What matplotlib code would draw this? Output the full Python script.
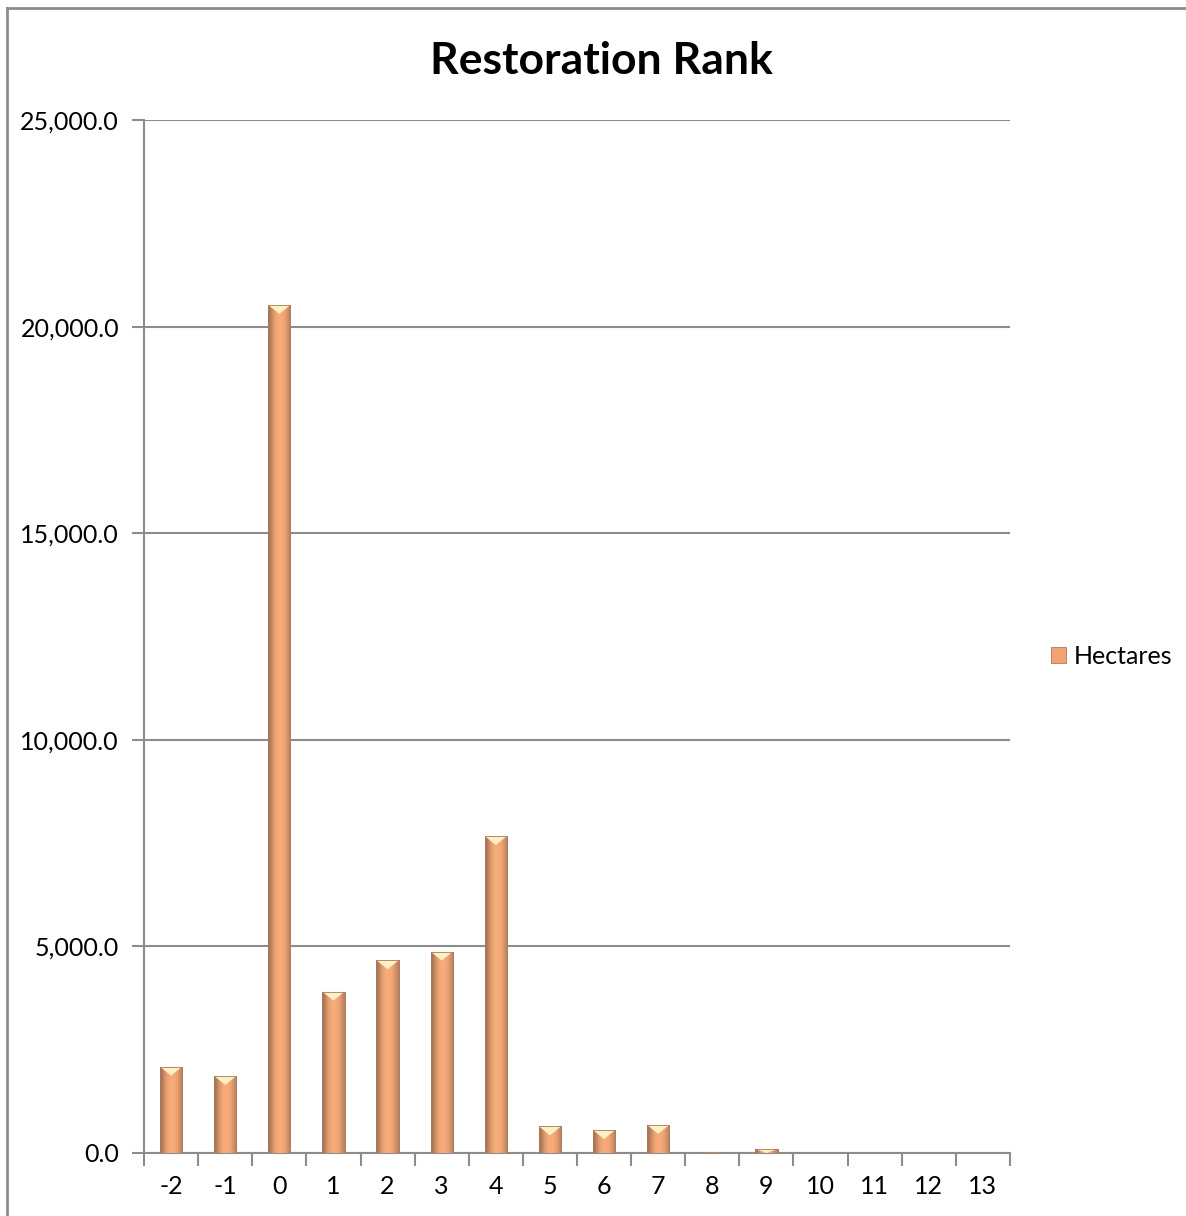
import numpy as np
import matplotlib.pyplot as plt
from matplotlib.patches import Polygon, Rectangle
from matplotlib.ticker import FuncFormatter, MultipleLocator

plt.rcParams['font.family'] = ['Lato', 'DejaVu Sans']

# data
ranks = ['-2', '-1', '0', '1', '2', '3', '4', '5', '6', '7', '8', '9', '10', '11', '12', '13']
hectares = [2090, 1865, 20525, 3905, 4665, 4875, 7670, 645, 555, 680, 25, 95, 0, 0, 0, 0]
title = 'Restoration Rank'
series_name = 'Hectares'

grid_col = '#8c8c8c'
bar_col = '#f2a272'
edge_col = '#a87a62'

fig = plt.figure(figsize=(11.86, 12.16), dpi=100)
ax = fig.add_axes([144 / 1186, 1 - 1153 / 1216, 866 / 1186, 1033 / 1216])

x = np.arange(len(ranks))
bars = ax.bar(x, hectares, width=0.41, color=bar_col, edgecolor=edge_col,
              linewidth=0.6, zorder=3, label=series_name)

# horizontal shading on each bar + bevelled cap
shade = np.array([0.66, 0.82, 0.94, 1.0, 1.0, 0.97, 0.9, 0.76])
base = np.array([0xf8, 0xac, 0x7a]) / 255.0
grad = np.clip(base[None, :] * shade[:, None], 0, 1)[None, :, :]
cap_h = 9 * 25000 / 1033
for b, v in zip(bars, hectares):
    if v <= 0:
        continue
    x0, w = b.get_x(), b.get_width()
    im = ax.imshow(grad, extent=[x0, x0 + w, 0, v], aspect='auto',
                   interpolation='bicubic', zorder=3.5)
    im.set_clip_path(b)
    h = min(cap_h, v)
    tri = Polygon([[x0, v], [x0 + w, v], [x0 + w / 2, v - h]], closed=True,
                  facecolor='#fff0c4', edgecolor='none', zorder=4)
    ax.add_patch(tri)
    ax.add_patch(Rectangle((x0, 0), w, v, fill=False, edgecolor=edge_col,
                           linewidth=0.6, zorder=4.5))

ax.set_xlim(-0.5, len(ranks) - 0.5)
ax.set_ylim(0, 25000)
ax.yaxis.set_major_locator(MultipleLocator(5000))
ax.yaxis.set_major_formatter(FuncFormatter(lambda v, p: f'{v:,.1f}'))
ax.set_xticks(x)
ax.set_xticklabels(ranks)
ax.set_xticks(np.arange(-0.5, len(ranks), 1), minor=True)
ax.tick_params(axis='x', which='major', length=0, labelsize=18, pad=16)
ax.tick_params(axis='x', which='minor', length=9, width=1.5, color=grid_col)
ax.tick_params(axis='y', length=9, width=1.5, color=grid_col, labelsize=18, pad=9)

ax.grid(axis='y', color=grid_col, linewidth=1.5, zorder=0)
ax.set_axisbelow(True)
for s in ['top', 'right']:
    ax.spines[s].set_visible(False)
for s in ['left', 'bottom']:
    ax.spines[s].set_color(grid_col)
    ax.spines[s].set_linewidth(1.5)

fig.text(601 / 1186, 1 - 61 / 1216, title, ha='center', va='center',
         fontsize=32, fontweight='bold')

ax.legend(loc='center left', bbox_to_anchor=((1051 - 144) / 866, (1153 - 656) / 1033),
          frameon=False, fontsize=18, handlelength=0.6, handleheight=0.6,
          handletextpad=0.3, borderaxespad=0, borderpad=0)

# chart frame (only top and left edges fall inside the picture)
fig.add_artist(plt.Line2D([6.5 / 1186, 1.0], [1 - 7.5 / 1216] * 2, color=grid_col,
                          linewidth=2, transform=fig.transFigure))
fig.add_artist(plt.Line2D([6.5 / 1186] * 2, [0.0, 1 - 7.5 / 1216], color=grid_col,
                          linewidth=2, transform=fig.transFigure))

fig.savefig('out.png', dpi=100)
